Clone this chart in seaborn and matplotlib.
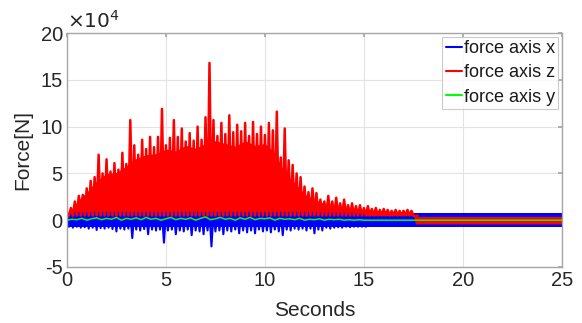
import numpy as np
import pandas as pd
import matplotlib
matplotlib.use("Agg")
import matplotlib.pyplot as plt
from matplotlib.lines import Line2D
from matplotlib.ticker import FuncFormatter
import seaborn as sns

# ---------------- data (force values in units of 1e4 N) ----------------
STEP = 0.2  # seconds between successive peak samples
# red: force axis z, peak envelope sampled every 0.2 s from t=0 to 17.6 s
red_peak = [
    0.8, 1.3, 2.0, 2.6, 2.7, 3.4, 4.2, 4.6, 7.0, 5.0,
    6.5, 5.2, 6.1, 5.4, 7.2, 6.0, 10.7, 8.0, 7.0, 8.6,
    7.6, 8.9, 7.8, 8.9, 11.9, 8.0, 8.8, 10.7, 8.9, 9.8,
    8.4, 9.3, 8.5, 10.0, 8.6, 11.0, 16.8, 10.7, 9.0, 10.4,
    9.2, 11.2, 9.4, 10.2, 9.5, 10.4, 9.0, 10.5, 9.2, 10.0,
    9.1, 10.4, 9.6, 11.6, 6.7, 9.8, 6.4, 5.9, 5.0, 4.6,
    3.6, 3.0, 3.4, 2.9, 2.2, 2.0, 2.6, 2.0, 2.4, 1.8,
    2.2, 1.6, 1.8, 1.5, 1.6, 1.3, 1.5, 1.2, 1.3, 1.1,
    1.2, 1.1, 1.0, 1.1, 1.0, 1.0, 1.1, 1.0, 0.4,
]
RED_TROUGH = 0.5
# dense body of the red signal
body_t = [0, 0.3, 0.5, 1, 1.5, 2, 2.5, 3, 3.5, 4, 4.5, 5, 5.5, 6, 6.5, 7, 7.5, 8,
          8.5, 9, 9.5, 10, 10.5, 11, 11.5, 12, 12.5, 13, 13.5, 14, 15, 16, 17, 17.5, 17.6, 25]
body_top = [0.7, 1.2, 2.0, 3.0, 4.2, 5.0, 5.1, 5.8, 6.6, 7.0, 7.1, 7.6, 7.4, 8.0, 7.7, 8.2, 8.5, 8.2,
            7.9, 8.5, 8.0, 8.2, 7.2, 5.0, 4.0, 2.8, 2.2, 1.8, 1.6, 1.3, 1.0, 0.8, 0.7, 0.6, 0.4, 0.4]
body_bot = [-0.6, 0.4] + [0.5] * 31 + [0.5, -0.4, -0.4]

# blue: force axis x, lower spikes sampled every 0.2 s from t=0 to 15 s
blue_low = [
    -0.7, -0.8, -0.7, -0.8, -0.75, -0.9, -0.8, -1.05, -0.85, -0.9,
    -0.8, -0.95, -1.2, -0.9, -1.0, -0.9, -1.9, -1.0, -1.1, -0.95,
    -1.5, -1.0, -1.1, -1.0, -2.4, -1.1, -1.0, -1.5, -1.1, -1.2,
    -1.0, -1.6, -1.1, -1.2, -1.5, -1.1, -2.8, -1.2, -1.1, -1.5,
    -1.1, -1.2, -1.0, -1.4, -1.1, -1.3, -1.1, -1.4, -1.0, -1.2,
    -1.1, -1.3, -1.0, -1.2, -1.6, -1.0, -1.1, -0.9, -1.0, -0.9,
    -1.1, -0.9, -1.4, -1.0, -1.1, -0.8, -0.9, -0.8, -0.75, -0.8,
    -0.7, -0.75, -0.7, -0.7, -0.7, -0.7,
]
BLUE_TOP = 0.8
BLUE_BAND = 0.75

# green: force axis y, sampled every 0.25 s from t=0 to 15 s, then flat
GREEN_STEP = 0.25
green_vals = [
    0.0, 0.1, 0.05, 0.2, 0.0, 0.15, 0.25, 0.05, 0.2, 0.1,
    0.3, 0.0, 0.2, 0.1, 0.25, 0.05, 0.3, 0.1, 0.2, 0.0,
    0.15, 0.3, 0.05, 0.2, 0.1, 0.25, 0.0, 0.2, 0.35, 0.05,
    0.15, 0.3, 0.1, 0.2, 0.0, 0.25, 0.1, 0.3, 0.05, 0.2,
    0.15, 0.25, 0.0, 0.2, 0.1, 0.15, 0.05, 0.2, 0.0, 0.1,
    0.05, 0.15, 0.0, 0.1, 0.05, 0.1, 0.0, 0.05, 0.0, 0.05, 0.0,
]
T_END = 25

x_ticks = [0, 5, 10, 15, 20, 25]
y_ticks = [-5, 0, 5, 10, 15, 20]
labels = ["force axis x", "force axis z", "force axis y"]
colors = ["#0000ff", "#ff0000", "#00ff00"]
SCALE = 1e4

# ---------------- build zig-zag tables ----------------
red_t = np.arange(len(red_peak)) * STEP
red_x = np.ravel(np.column_stack([red_t, red_t + STEP / 2]))
red_y = np.ravel(np.column_stack([red_peak, np.full(len(red_peak), RED_TROUGH)])) * SCALE
red_df = pd.DataFrame({"t": red_x, "f": red_y})

blue_t = np.arange(len(blue_low)) * STEP
blue_x = np.ravel(np.column_stack([blue_t, blue_t + STEP / 2]))
blue_y = np.ravel(np.column_stack([np.full(len(blue_low), BLUE_TOP), blue_low])) * SCALE
blue_df = pd.DataFrame({"t": blue_x, "f": blue_y})

green_t = list(np.arange(len(green_vals)) * GREEN_STEP) + [T_END]
green_df = pd.DataFrame({"t": green_t, "f": np.array(green_vals + [0.0]) * SCALE})

# ---------------- plot ----------------
sns.set_theme(style="white")
plt.rcParams["font.family"] = ["Liberation Sans", "DejaVu Sans"]

fig = plt.figure(figsize=(5.82, 3.23), dpi=100)
ax = fig.add_axes([0.115, 0.1734, 0.8505, 0.7244])
ax.set_facecolor("white")

# blue (x)
ax.fill_between([0, T_END], -BLUE_BAND * SCALE, BLUE_BAND * SCALE, color=colors[0], lw=0)
sns.lineplot(data=blue_df, x="t", y="f", sort=False, estimator=None, color=colors[0], lw=1.5, ax=ax)
# red (z)
ax.fill_between(body_t, np.array(body_bot) * SCALE, np.array(body_top) * SCALE, color=colors[1], lw=0)
sns.lineplot(data=red_df, x="t", y="f", sort=False, estimator=None, color=colors[1], lw=1.8, ax=ax)
# green (y)
sns.lineplot(data=green_df, x="t", y="f", sort=False, estimator=None, color=colors[2], lw=1.1, ax=ax)

ax.set_xlim(0, 25)
ax.set_ylim(-5 * SCALE, 20 * SCALE)
ax.set_xticks(x_ticks)
ax.set_yticks([v * SCALE for v in y_ticks])
ax.yaxis.set_major_formatter(FuncFormatter(lambda v, p: f"{v / SCALE:g}"))
ax.grid(True, color="#e3e3e3", lw=0.8)
ax.set_axisbelow(True)
for s in ax.spines.values():
    s.set_color("#a6a6a6")
    s.set_linewidth(1.0)
ax.tick_params(direction="in", length=3, color="#a6a6a6", labelsize=14.5,
               labelcolor="#262626", top=True, right=True, pad=3)
ax.set_xlabel("Seconds", fontsize=15, color="#262626", labelpad=8)
ax.set_ylabel("Force[N]", fontsize=15, color="#262626", labelpad=6)
ax.text(0.0, 1.005, r"$\times10^{4}$", transform=ax.transAxes, ha="left", va="bottom",
        fontsize=14.5, color="#262626")

handles = [Line2D([0], [0], color=c, lw=1.5) for c in colors]
leg = ax.legend(handles, labels, loc="upper right", fontsize=13, frameon=True,
                fancybox=False, edgecolor="#bfbfbf", handlelength=0.9, handletextpad=0.1,
                borderpad=0.2, labelspacing=0.4, borderaxespad=0.2)
leg.get_frame().set_linewidth(0.8)
for t in leg.get_texts():
    t.set_color("#1a1a1a")

fig.savefig("out.png", dpi=100)
